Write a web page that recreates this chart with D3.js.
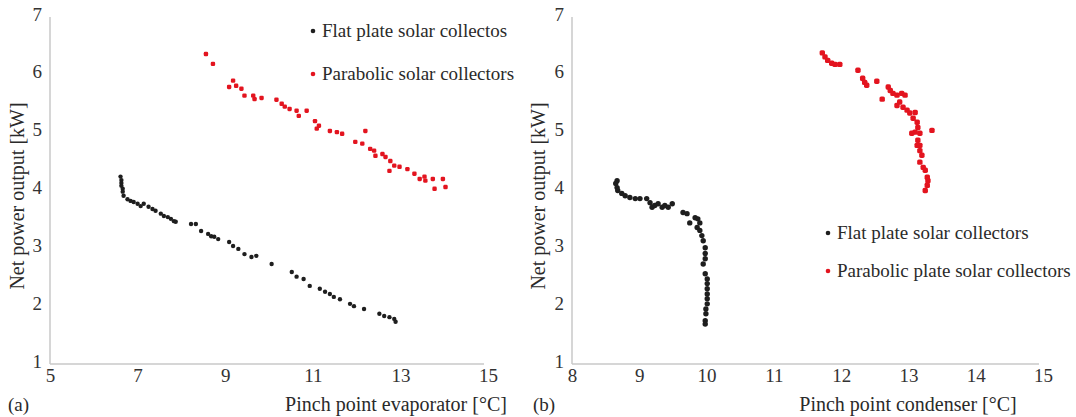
<!DOCTYPE html>
<html>
<head>
<meta charset="utf-8">
<script src="https://cdn.jsdelivr.net/npm/d3@7.9.0/dist/d3.min.js"></script>
<style>
  html, body { margin: 0; padding: 0; background: #fff; }
  svg { display: block; }
  text { font-family: "Liberation Serif", "Times New Roman", Times, "DejaVu Serif", "Noto Serif", serif; fill: #2a2a2a; }
  .tick text { font-size: 19px; fill: #333; }
</style>
</head>
<body>
<svg id="chart" width="1076" height="417"></svg>
<script>
// panel (a): pinch point evaporator
const evapFlatX = [6.61, 6.63, 6.63, 6.63, 6.66, 6.66, 6.68, 6.77, 6.84, 6.91, 7.00, 7.07, 7.14, 7.25, 7.34, 7.41,
  7.53, 7.60, 7.69, 7.76, 7.83, 7.87, 8.22, 8.33, 8.45, 8.61, 8.68, 8.75, 8.84, 9.09, 9.18, 9.30, 9.44, 9.60, 9.71,
  10.06, 10.52, 10.63, 10.79, 10.93, 11.16, 11.28, 11.39, 11.48, 11.62, 11.85, 11.94, 12.17, 12.52, 12.63, 12.75, 12.86, 12.89];
const evapFlatY = [4.24, 4.18, 4.13, 4.08, 4.03, 3.98, 3.91, 3.85, 3.82, 3.80, 3.77, 3.73, 3.77, 3.72, 3.68, 3.65,
  3.60, 3.56, 3.54, 3.51, 3.47, 3.46, 3.42, 3.42, 3.30, 3.25, 3.21, 3.20, 3.16, 3.11, 3.04, 2.99, 2.90, 2.85, 2.87,
  2.73, 2.59, 2.51, 2.47, 2.35, 2.30, 2.25, 2.21, 2.16, 2.12, 2.04, 2.00, 1.95, 1.87, 1.83, 1.81, 1.78, 1.73];
const evapParabX = [8.56, 8.72, 9.18, 9.09, 9.25, 9.37, 9.44, 9.64, 9.67, 9.83, 10.17, 10.29, 10.36, 10.47, 10.63,
  10.68, 10.86, 11.05, 11.14, 11.09, 11.39, 11.55, 12.20, 11.67, 11.97, 12.13, 12.31, 12.40, 12.43, 12.59, 12.66,
  12.77, 12.86, 12.75, 12.98, 13.16, 13.32, 13.44, 13.55, 13.57, 13.74, 13.78, 13.97, 14.03];
const evapParabY = [6.36, 6.19, 5.90, 5.79, 5.81, 5.76, 5.64, 5.64, 5.58, 5.60, 5.57, 5.50, 5.45, 5.41, 5.38,
  5.29, 5.38, 5.20, 5.12, 5.07, 5.03, 5.01, 5.03, 4.98, 4.84, 4.81, 4.72, 4.69, 4.60, 4.63, 4.58,
  4.51, 4.43, 4.34, 4.41, 4.37, 4.29, 4.20, 4.24, 4.17, 4.20, 4.03, 4.20, 4.06];

// panel (b): pinch point condenser
const condFlatX = [8.67, 8.65, 8.67, 8.68, 8.74, 8.79, 8.86, 8.94, 9.01, 9.11, 9.16, 9.19, 9.23, 9.28, 9.34, 9.38,
  9.43, 9.49, 9.65, 9.71, 9.75, 9.83, 9.87, 9.90, 9.86, 9.90, 9.93, 9.95, 9.98, 9.98, 9.98, 9.95, 9.98, 10.01,
  10.01, 10.01, 10.01, 10.01, 10.01, 9.99, 9.99, 9.98, 9.98];
const condFlatY = [4.17, 4.12, 4.05, 4.00, 3.95, 3.91, 3.88, 3.86, 3.86, 3.86, 3.79, 3.71, 3.74, 3.77, 3.71, 3.74,
  3.71, 3.77, 3.62, 3.60, 3.44, 3.53, 3.51, 3.44, 3.36, 3.31, 3.22, 3.13, 3.01, 2.91, 2.82, 2.73, 2.56, 2.47,
  2.39, 2.30, 2.21, 2.13, 2.04, 1.95, 1.87, 1.75, 1.69];
const condParabX = [11.72, 11.76, 11.80, 11.86, 11.91, 11.98, 12.25, 12.32, 12.35, 12.38, 12.53, 12.61, 12.70, 12.73,
  12.77, 12.83, 12.90, 12.95, 12.83, 12.87, 12.92, 12.98, 13.02, 13.10, 13.07, 13.13, 13.14, 13.10, 13.17, 13.14,
  13.17, 13.35, 13.05, 13.20, 13.17, 13.22, 13.25, 13.28, 13.29, 13.28, 13.25, 13.13, 13.17];
const condParabY = [6.38, 6.31, 6.25, 6.20, 6.18, 6.18, 6.08, 5.94, 5.87, 5.82, 5.89, 5.58, 5.79, 5.73,
  5.68, 5.65, 5.68, 5.65, 5.47, 5.53, 5.44, 5.39, 5.34, 5.35, 5.25, 5.18, 5.09, 5.01, 4.99, 4.87,
  4.78, 5.04, 4.99, 4.61, 4.49, 4.40, 4.35, 4.23, 4.17, 4.09, 4.00, 4.78, 4.69];

const yTicks = [1, 2, 3, 4, 5, 6, 7];
const evapTicks = [5, 7, 9, 11, 13, 15];
const condTicks = [8, 9, 10, 11, 12, 13, 14, 15];

const RED = '#e3141f';
const BLACK = '#1e1e1e';
const AXIS = '#c9c9c9';

const svg = d3.select('#chart');

function zip(xs, ys) {
  return xs.map((x, i) => ({ x, y: ys[i] }));
}

function drawPanel(opts) {
  const x = d3.scaleLinear().domain(opts.xDomain).range(opts.xRange);
  const y = d3.scaleLinear().domain([1, 7]).range([364, 17]);
  const g = svg.append('g');

  // axis lines (light grey, no tick marks)
  g.append('line')
    .attr('x1', x(opts.xDomain[0])).attr('x2', x(opts.xDomain[0]))
    .attr('y1', y(1)).attr('y2', y(7))
    .attr('stroke', AXIS).attr('stroke-width', 1.5);
  g.append('line')
    .attr('x1', x(opts.xDomain[0])).attr('x2', x(opts.xDomain[1]) - 4)
    .attr('y1', y(1)).attr('y2', y(1))
    .attr('stroke', AXIS).attr('stroke-width', 1.5);

  const yAxis = g.append('g')
    .attr('transform', `translate(${x(opts.xDomain[0])},-3)`)
    .call(d3.axisLeft(y).tickValues(yTicks).tickSize(0).tickPadding(8).tickFormat(d3.format('d')));
  yAxis.select('.domain').remove();
  yAxis.attr('font-family', null);

  const xAxis = g.append('g')
    .attr('transform', `translate(0,${y(1)})`)
    .call(d3.axisBottom(x).tickValues(opts.xTicks).tickSize(0).tickPadding(5).tickFormat(d3.format('d')));
  xAxis.select('.domain').remove();
  xAxis.attr('font-family', null);

  // points
  g.append('g').selectAll('circle')
    .data(zip(opts.flatX, opts.flatY))
    .join('circle')
    .attr('cx', (d) => x(d.x)).attr('cy', (d) => y(d.y))
    .attr('r', opts.r).attr('fill', BLACK);

  g.append('g').selectAll('rect')
    .data(zip(opts.parabX, opts.parabY))
    .join('rect')
    .attr('x', (d) => x(d.x) - opts.r).attr('y', (d) => y(d.y) - opts.r)
    .attr('width', opts.r * 2).attr('height', opts.r * 2)
    .attr('rx', opts.r * 0.6)
    .attr('fill', RED);

  // axis titles
  g.append('text')
    .attr('transform', `translate(${opts.yTitleX},196) rotate(-90)`)
    .attr('text-anchor', 'middle')
    .style('font-size', '20px')
    .text('Net power output [kW]');
  g.append('text')
    .attr('x', opts.xTitleX).attr('y', 411)
    .attr('text-anchor', 'middle')
    .style('font-size', '20px')
    .text(opts.xTitle);
  g.append('text')
    .attr('x', opts.panelX).attr('y', 411)
    .style('font-size', '19px')
    .text(opts.panelLabel);

  // legend
  const leg = g.append('g');
  opts.legend.forEach((item, i) => {
    const ly = opts.legendY + i * opts.legendGap;
    leg.append('circle')
      .attr('cx', opts.legendX).attr('cy', ly - 6)
      .attr('r', 2.3).attr('fill', item.color);
    leg.append('text')
      .attr('x', opts.legendX + 9).attr('y', ly)
      .style('font-size', '19px')
      .text(item.label);
  });
}

drawPanel({
  xDomain: [5, 15], xRange: [50, 488], xTicks: evapTicks,
  flatX: evapFlatX, flatY: evapFlatY, parabX: evapParabX, parabY: evapParabY,
  r: 2.2,
  yTitleX: 24, xTitleX: 396, xTitle: 'Pinch point evaporator [°C]',
  panelX: 8, panelLabel: '(a)',
  legendX: 313, legendY: 37, legendGap: 43,
  legend: [
    { label: 'Flat plate solar collectos', color: BLACK },
    { label: 'Parabolic solar collectors', color: RED },
  ],
});

drawPanel({
  xDomain: [8, 15], xRange: [572, 1043], xTicks: condTicks,
  flatX: condFlatX, flatY: condFlatY, parabX: condParabX, parabY: condParabY,
  r: 2.7,
  yTitleX: 545, xTitleX: 908, xTitle: 'Pinch point condenser [°C]',
  panelX: 533, panelLabel: '(b)',
  legendX: 828, legendY: 239, legendGap: 38,
  legend: [
    { label: 'Flat plate solar collectors', color: BLACK },
    { label: 'Parabolic plate solar collectors', color: RED },
  ],
});
</script>
</body>
</html>
